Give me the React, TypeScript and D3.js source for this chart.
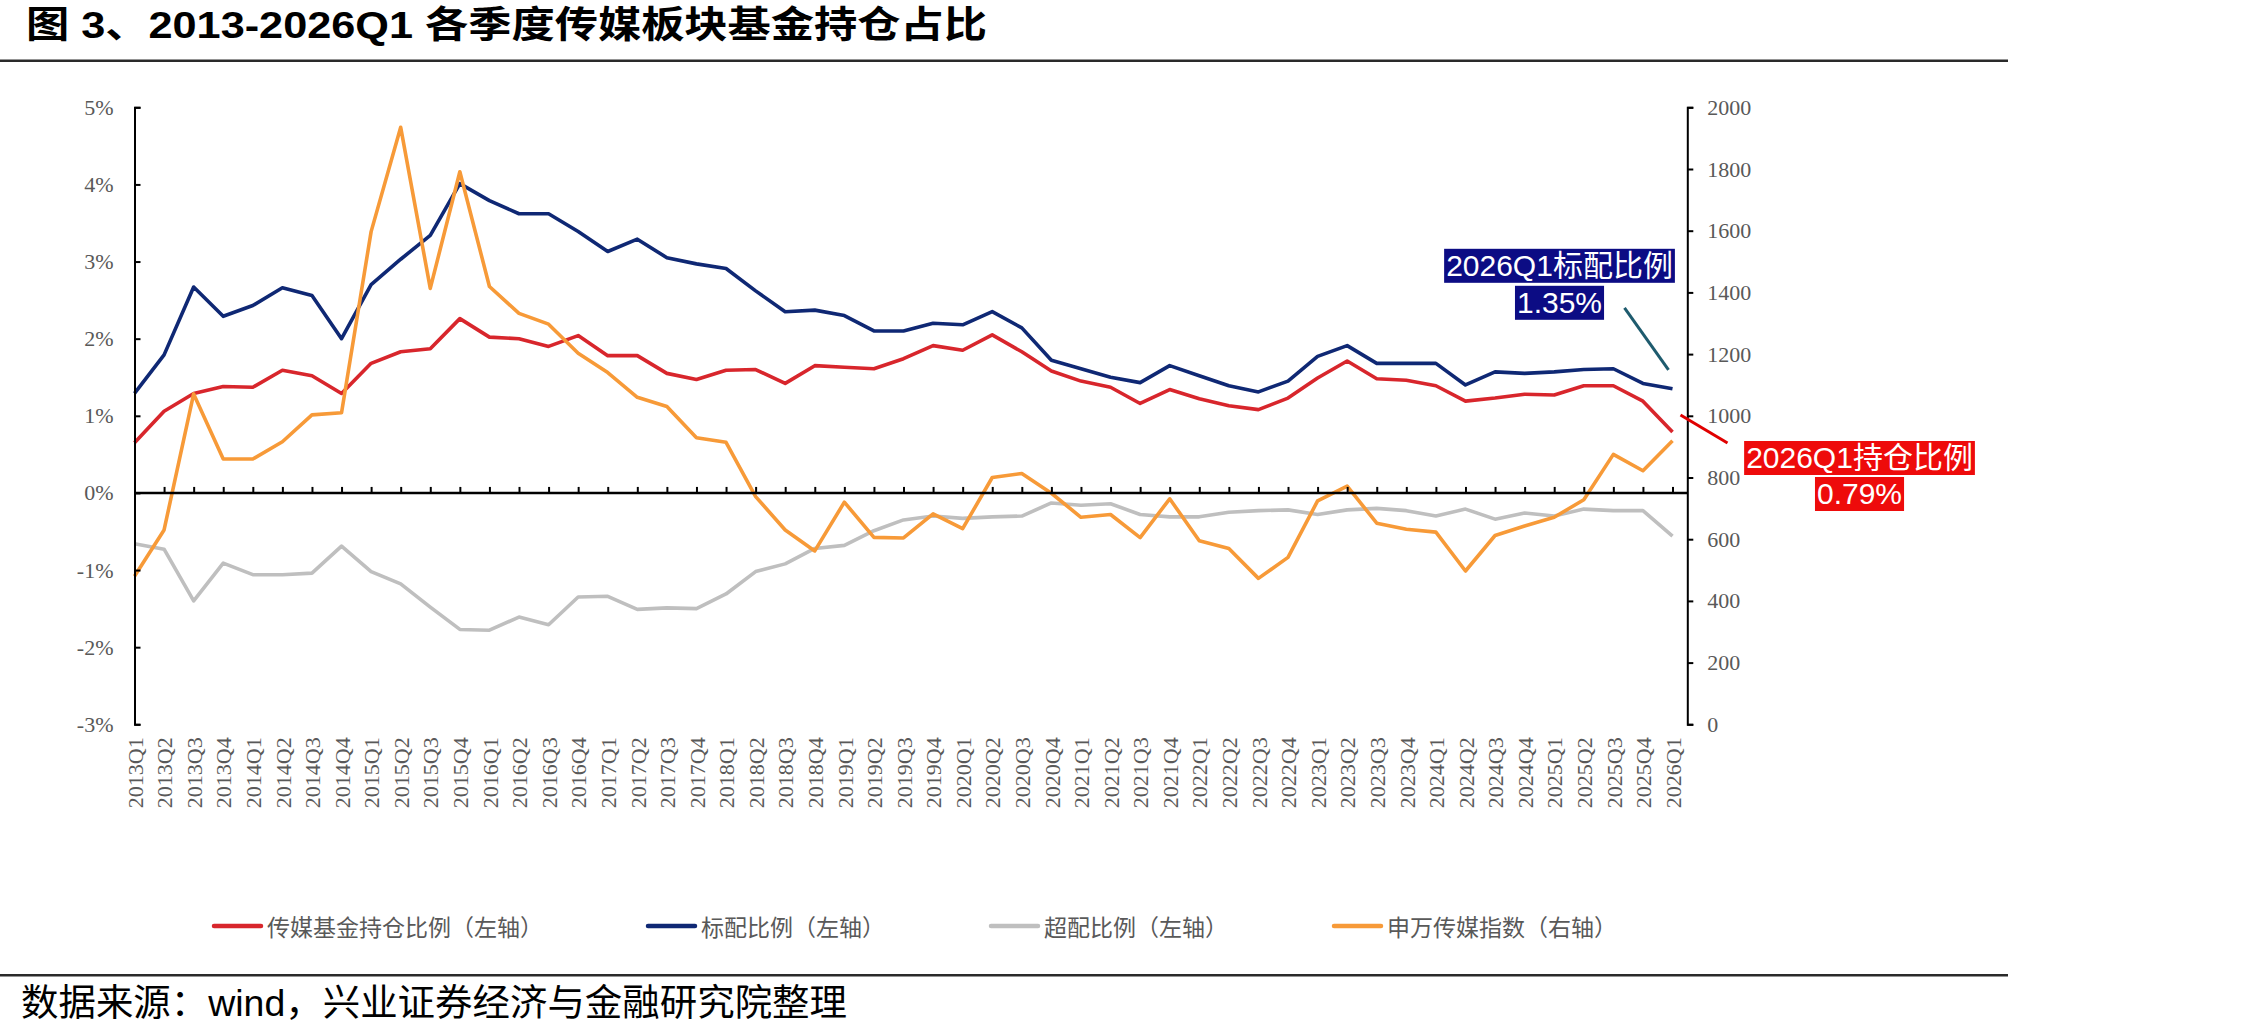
import React, { useEffect, useRef } from "react";
import * as d3 from "d3";

// quarters on the category axis
const quarters = [
  "2013Q1", "2013Q2", "2013Q3", "2013Q4",
  "2014Q1", "2014Q2", "2014Q3", "2014Q4",
  "2015Q1", "2015Q2", "2015Q3", "2015Q4",
  "2016Q1", "2016Q2", "2016Q3", "2016Q4",
  "2017Q1", "2017Q2", "2017Q3", "2017Q4",
  "2018Q1", "2018Q2", "2018Q3", "2018Q4",
  "2019Q1", "2019Q2", "2019Q3", "2019Q4",
  "2020Q1", "2020Q2", "2020Q3", "2020Q4",
  "2021Q1", "2021Q2", "2021Q3", "2021Q4",
  "2022Q1", "2022Q2", "2022Q3", "2022Q4",
  "2023Q1", "2023Q2", "2023Q3", "2023Q4",
  "2024Q1", "2024Q2", "2024Q3", "2024Q4",
  "2025Q1", "2025Q2", "2025Q3", "2025Q4",
  "2026Q1"
];

// 传媒基金持仓比例 (%) - left axis
const holdingRatio = [
  0.65, 1.06, 1.29, 1.38, 1.37, 1.59, 1.52, 1.29, 1.68, 1.83, 1.87, 2.26,
  2.02, 2.0, 1.9, 2.04, 1.78, 1.78, 1.55, 1.47, 1.59, 1.6, 1.42, 1.65,
  1.63, 1.61, 1.74, 1.91, 1.85, 2.05, 1.83, 1.58, 1.45, 1.37, 1.16, 1.34,
  1.22, 1.13, 1.08, 1.23, 1.49, 1.71, 1.48, 1.46, 1.39, 1.19, 1.23, 1.28,
  1.27, 1.39, 1.39, 1.19, 0.79
];

// 标配比例 (%) - left axis
const benchmarkRatio = [
  1.29, 1.79, 2.67, 2.29, 2.43, 2.66, 2.56, 2.0, 2.7, 3.03, 3.34, 4.01,
  3.79, 3.62, 3.62, 3.39, 3.13, 3.29, 3.05, 2.97, 2.91, 2.62, 2.35, 2.37,
  2.3, 2.1, 2.1, 2.2, 2.18, 2.35, 2.14, 1.72, 1.61, 1.5, 1.43, 1.65,
  1.52, 1.39, 1.31, 1.45, 1.77, 1.91, 1.68, 1.68, 1.68, 1.4, 1.57, 1.55,
  1.57, 1.6, 1.61, 1.42, 1.35
];

// 超配比例 (%) - left axis
const overweightRatio = [
  -0.66, -0.73, -1.4, -0.91, -1.06, -1.06, -1.04, -0.69, -1.02, -1.18, -1.48, -1.77,
  -1.78, -1.61, -1.71, -1.35, -1.34, -1.51, -1.49, -1.5, -1.31, -1.02, -0.92, -0.72,
  -0.68, -0.49, -0.35, -0.3, -0.33, -0.31, -0.3, -0.13, -0.16, -0.14, -0.28, -0.31,
  -0.31, -0.25, -0.23, -0.22, -0.28, -0.22, -0.2, -0.23, -0.3, -0.21, -0.34, -0.26,
  -0.3, -0.21, -0.23, -0.23, -0.56
];

// 申万传媒指数 - right axis
const mediaIndex = [
  480, 630, 1071, 860, 860, 916, 1003, 1010, 1597, 1935, 1413, 1791,
  1419, 1332, 1297, 1203, 1140, 1060, 1030, 929, 914, 738, 630, 562,
  720, 606, 604, 682, 634, 800, 813, 749, 671, 680, 605, 731,
  595, 570, 473, 541, 724, 772, 652, 632, 623, 497, 612, 643,
  671, 728, 875, 822, 919
];

const leftTicks = [-3, -2, -1, 0, 1, 2, 3, 4, 5];
const rightTicks = [0, 200, 400, 600, 800, 1000, 1200, 1400, 1600, 1800, 2000];

const seriesNames = [
  "传媒基金持仓比例（左轴）",
  "标配比例（左轴）",
  "超配比例（左轴）",
  "申万传媒指数（右轴）"
];

const colors = {
  holding: "#D8262C",
  benchmark: "#0F2874",
  overweight: "#BFBFBF",
  index: "#F79A38"
};

const W = 2244;
const H = 1036;
const plot = { left: 134.5, right: 1687.3, top: 107.3, bottom: 724.3 };
const legendX = [212, 646, 989, 1332];
const legendY = 926;

const axisFont = "'Liberation Serif', 'Times New Roman', serif";
const cjkFont = "'Liberation Sans', 'Noto Sans CJK SC', sans-serif";

const App: React.FC = () => {
  const leftAxisRef = useRef<SVGGElement>(null);
  const rightAxisRef = useRef<SVGGElement>(null);
  const zeroAxisRef = useRef<SVGGElement>(null);
  const labelAxisRef = useRef<SVGGElement>(null);
  const calloutRef = useRef<SVGGElement>(null);

  // points sit on the ticks, leaving half a step before the right axis
  const step = (plot.right - plot.left) / (quarters.length - 0.5);
  const x = d3
    .scalePoint<string>()
    .domain(quarters)
    .range([plot.left, plot.left + step * (quarters.length - 1)]);
  const yLeft = d3.scaleLinear().domain([-3, 5]).range([plot.bottom, plot.top]);
  const yRight = d3.scaleLinear().domain([0, 2000]).range([plot.bottom, plot.top]);

  const leftLine = d3
    .line<number>()
    .x((_, i) => x(quarters[i]) as number)
    .y(d => yLeft(d));
  const rightLine = d3
    .line<number>()
    .x((_, i) => x(quarters[i]) as number)
    .y(d => yRight(d));

  const last = quarters.length - 1;
  const lastX = x(quarters[last]) as number;
  const benchY = yLeft(benchmarkRatio[last]);
  const holdY = yLeft(holdingRatio[last]);

  useEffect(() => {
    const styleTicks = (g: d3.Selection<SVGGElement, unknown, null, undefined>) => {
      g.attr("font-family", null).attr("font-size", null);
      g.select(".domain").attr("stroke", "#000").attr("stroke-width", 2);
      g.selectAll(".tick line").attr("stroke", "#000").attr("stroke-width", 2);
      g.selectAll(".tick text")
        .attr("fill", "#595959")
        .style("font-family", axisFont)
        .style("font-size", "22px");
    };

    if (leftAxisRef.current) {
      const g = d3.select(leftAxisRef.current);
      g.call(
        d3
          .axisLeft(yLeft)
          .tickValues(leftTicks)
          .tickSize(-6)
          .tickPadding(21)
          .tickFormat(d => `${d}%`)
      );
      styleTicks(g);
    }

    if (rightAxisRef.current) {
      const g = d3.select(rightAxisRef.current);
      g.call(
        d3
          .axisRight(yRight)
          .tickValues(rightTicks)
          .tickSize(6)
          .tickPadding(14)
          .tickFormat(d => `${d}`)
      );
      styleTicks(g);
    }

    if (zeroAxisRef.current) {
      const g = d3.select(zeroAxisRef.current);
      g.call(
        d3
          .axisBottom(x)
          .tickSize(-6)
          .tickSizeOuter(0)
          .tickFormat(() => "")
      );
      g.select(".domain").remove();
      g.selectAll(".tick line").attr("stroke", "#000").attr("stroke-width", 2);
    }

    if (labelAxisRef.current) {
      const g = d3.select(labelAxisRef.current);
      g.call(d3.axisBottom(x).tickSize(0).tickPadding(0));
      g.select(".domain").remove();
      g.attr("font-family", null).attr("font-size", null);
      g.selectAll(".tick text")
        .attr("y", 0)
        .attr("x", 0)
        .attr("dy", "0.35em")
        .attr("transform", "rotate(-90)")
        .attr("text-anchor", "end")
        .attr("fill", "#595959")
        .style("font-family", axisFont)
        .style("font-size", "22px");
    }

    // fit the coloured boxes behind the callout text
    if (calloutRef.current) {
      d3.select(calloutRef.current)
        .selectAll<SVGGElement, unknown>(".callout-row")
        .each(function () {
          const row = d3.select(this);
          const t = row.select<SVGTextElement>("text").node();
          if (!t) return;
          const b = t.getBBox();
          const cy = Number(row.attr("data-cy"));
          row
            .select("rect")
            .attr("x", b.x - 2)
            .attr("y", cy - 17)
            .attr("width", b.width + 4)
            .attr("height", 34);
        });
    }
  }, []);

  const rows = [
    { text: `${quarters[last]}标配比例`, cx: lastX - 113, cy: benchY - 123, fill: "#0C0C84" },
    { text: `${benchmarkRatio[last].toFixed(2)}%`, cx: lastX - 113, cy: benchY - 86, fill: "#0C0C84" },
    { text: `${quarters[last]}持仓比例`, cx: lastX + 187, cy: holdY + 26, fill: "#EE0B0B" },
    { text: `${holdingRatio[last].toFixed(2)}%`, cx: lastX + 187, cy: holdY + 62, fill: "#EE0B0B" }
  ];

  return (
    <svg
      width={W}
      height={H}
      style={{ position: "absolute", left: 0, top: 0, background: "#fff" }}
    >
      <rect width={W} height={H} fill="#fff" />

      {/* header */}
      <text
        x={26}
        y={38}
        fontFamily={cjkFont}
        fontWeight="bold"
        fontSize={37}
        textLength={961}
        lengthAdjust="spacingAndGlyphs"
        fill="#000"
      >
        图 3、2013-2026Q1 各季度传媒板块基金持仓占比
      </text>
      <rect x={0} y={59.5} width={2008} height={2.5} fill="#2a2a2a" />

      {/* series */}
      <path d={leftLine(holdingRatio) ?? ""} fill="none" stroke={colors.holding} strokeWidth={3.6} strokeLinejoin="round" />
      <path d={leftLine(benchmarkRatio) ?? ""} fill="none" stroke={colors.benchmark} strokeWidth={3.6} strokeLinejoin="round" />
      <path d={leftLine(overweightRatio) ?? ""} fill="none" stroke={colors.overweight} strokeWidth={3.6} strokeLinejoin="round" />
      <path d={rightLine(mediaIndex) ?? ""} fill="none" stroke={colors.index} strokeWidth={3.6} strokeLinejoin="round" />

      {/* axes */}
      <line x1={plot.left} x2={plot.right} y1={yLeft(0)} y2={yLeft(0)} stroke="#000" strokeWidth={2.5} />
      <g ref={zeroAxisRef} transform={`translate(0, ${yLeft(0)})`} />
      <g ref={leftAxisRef} transform={`translate(${plot.left}, 0)`} />
      <g ref={rightAxisRef} transform={`translate(${plot.right}, 0)`} />
      <g ref={labelAxisRef} transform={`translate(0, ${plot.bottom + 13})`} />

      {/* callouts for the latest quarter */}
      <g ref={calloutRef}>
        <line
          x1={lastX - 48}
          y1={benchY - 81}
          x2={lastX - 4}
          y2={benchY - 19}
          stroke="#1E5B6E"
          strokeWidth={3}
        />
        <line
          x1={lastX + 8}
          y1={holdY - 17}
          x2={lastX + 55}
          y2={holdY + 11}
          stroke="#E00000"
          strokeWidth={3}
        />
        {rows.map((r, i) => (
          <g key={i} className="callout-row" data-cy={r.cy}>
            <rect fill={r.fill} />
            <text
              x={r.cx}
              y={r.cy}
              textAnchor="middle"
              dominantBaseline="central"
              fontFamily={cjkFont}
              fontSize={30}
              fill="#fff"
            >
              {r.text}
            </text>
          </g>
        ))}
      </g>

      {/* legend */}
      {seriesNames.map((name, i) => (
        <g key={name} transform={`translate(${legendX[i]}, ${legendY})`}>
          <line
            x1={2}
            x2={49}
            y1={0}
            y2={0}
            stroke={[colors.holding, colors.benchmark, colors.overweight, colors.index][i]}
            strokeWidth={4.5}
            strokeLinecap="round"
          />
          <text
            x={55}
            y={0}
            dominantBaseline="central"
            fontFamily="'Noto Sans CJK SC', sans-serif"
            fontSize={23}
            fill="#595959"
          >
            {name}
          </text>
        </g>
      ))}

      {/* footer */}
      <rect x={0} y={974} width={2008} height={2.5} fill="#2a2a2a" />
      <text
        x={21}
        y={1016}
        fontFamily={cjkFont}
        fontSize={37}
        textLength={826}
        lengthAdjust="spacingAndGlyphs"
        fill="#000"
      >
        数据来源：wind，兴业证券经济与金融研究院整理
      </text>
    </svg>
  );
};

export default App;
